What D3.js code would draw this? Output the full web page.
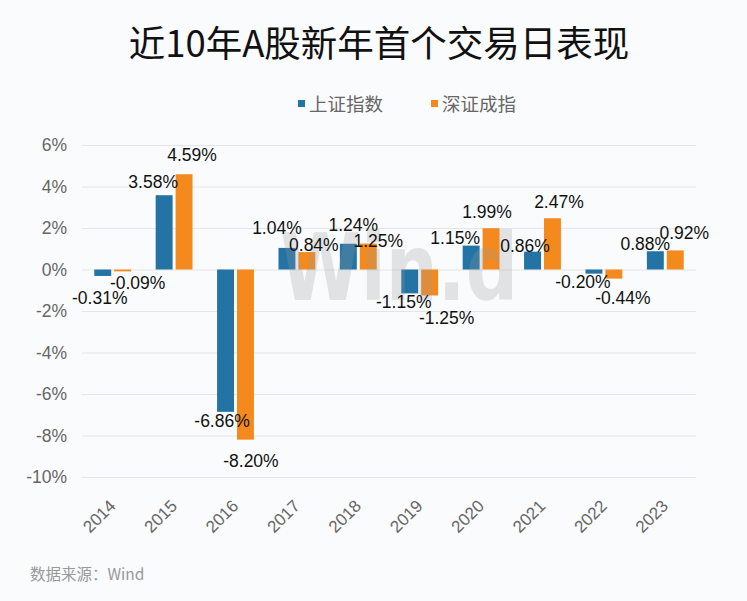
<!DOCTYPE html>
<html><head><meta charset="utf-8">
<script src="https://cdn.jsdelivr.net/npm/d3@7"></script>
<style>
html,body{margin:0;padding:0;background:#fafbfc;}
svg{display:block;}
</style></head>
<body>
<svg id="chart" width="747" height="601"></svg>
<script>
// ---- data ----
const years = ["2014","2015","2016","2017","2018","2019","2020","2021","2022","2023"];
const seriesNames = ["上证指数","深证成指"];
const shanghai = [-0.31, 3.58, -6.86, 1.04, 1.24, -1.15, 1.15, 0.86, -0.20, 0.88];
const shenzhen = [-0.09, 4.59, -8.20, 0.84, 1.25, -1.25, 1.99, 2.47, -0.44, 0.92];
const yTicks = [6, 4, 2, 0, -2, -4, -6, -8, -10];
const titleText = "近10年A股新年首个交易日表现";
const sourceText = "数据来源：Wind";

// ---- label nudges (layout only) [dx, dy] from bar centre / bar end ----
const nudgeShanghai = [[-3,22],[-11,-13],[-3.5,9],[-10,-20],[5,-18.5],[-6,9],[-16,-8],[-7.5,-6],[-11,8.5],[-10,-7]];
const nudgeShenzhen = [[15,12],[8,-19],[5.5,21],[7,-7],[10,-3],[17,22],[-4,-16],[6.5,-16],[9,19.5],[9,-18]];

(function(){
const colors = ["#2473a5","#f48a1e"];
const svg = d3.select("#chart");
const W = 747, H = 601;
svg.append("rect").attr("width",W).attr("height",H).attr("fill","#fafbfc");

const pL = 82, pR = 696, pT = 145, pB = 477;
const x0 = d3.scaleBand().domain(years).range([pL,pR]).paddingInner(0.4).paddingOuter(0.2);
const x1 = d3.scaleBand().domain([0,1]).range([0,x0.bandwidth()]).paddingInner(0.15);
const y = d3.scaleLinear().domain([-10,6]).range([pB,pT]);

// title
svg.append("text").attr("x",379).attr("y",57).attr("text-anchor","middle")
  .attr("font-family","'Noto Sans CJK SC',sans-serif").attr("font-size",36.5)
  .attr("fill","#111").text(titleText);

// legend
const legX = [298, 431];
seriesNames.forEach((n,i)=>{
  svg.append("rect").attr("x",legX[i]).attr("y",100).attr("width",7).attr("height",7).attr("fill",colors[i]);
  svg.append("text").attr("x",legX[i]+11).attr("y",110.5).attr("font-family","'Noto Sans CJK SC',sans-serif")
    .attr("font-size",18.5).attr("fill","#666").text(n);
});

// grid + y axis
const yAxis = d3.axisLeft(y).tickValues(yTicks).tickSize(-(pR-pL)).tickFormat(d=>d+"%");
const gy = svg.append("g").attr("transform",`translate(${pL},0)`).call(yAxis);
gy.select(".domain").remove();
gy.selectAll(".tick line").attr("stroke","#e3e5e8").attr("stroke-width",1);
gy.selectAll(".tick text").attr("x",-15).attr("font-family","'Liberation Sans',Arial,sans-serif")
  .attr("font-size",17.5).attr("fill","#666");

// x axis labels
const xAxis = d3.axisBottom(x0).tickSize(0);
const gx = svg.append("g").attr("transform",`translate(0,${pB})`).call(xAxis);
gx.select(".domain").remove();
gx.selectAll(".tick text").attr("font-family","'Liberation Sans',Arial,sans-serif").attr("font-size",17)
  .attr("fill","#666").attr("text-anchor","end").attr("dy",0).attr("y",0)
  .attr("transform","translate(4,30) rotate(-45)");

// bars
const series = [shanghai, shenzhen];
const nudges = [nudgeShanghai, nudgeShenzhen];
series.forEach((vals,s)=>{
  svg.append("g").selectAll("rect").data(vals).join("rect")
    .attr("x",(d,i)=>x0(years[i])+x1(s))
    .attr("width",x1.bandwidth())
    .attr("y",d=>y(Math.max(0,d)))
    .attr("height",d=>Math.abs(y(d)-y(0)))
    .attr("fill",colors[s]);
});

// watermark
svg.append("text").attr("x",280).attr("y",300).attr("textLength",238).attr("lengthAdjust","spacingAndGlyphs")
  .attr("font-family","'DejaVu Sans',sans-serif").attr("font-weight","bold").attr("font-size",92)
  .attr("fill","#9a9a9a").attr("opacity",0.25).text("Win.d");

// data labels
series.forEach((vals,s)=>{
  svg.append("g").selectAll("text").data(vals).join("text")
    .attr("x",(d,i)=>x0(years[i])+x1(s)+x1.bandwidth()/2+nudges[s][i][0])
    .attr("y",(d,i)=>y(d)+nudges[s][i][1])
    .attr("dy","0.35em").attr("text-anchor","middle")
    .attr("font-family","'Liberation Sans',Arial,sans-serif").attr("font-size",17.5)
    .attr("fill","#111").text(d=>d.toFixed(2)+"%");
});

// source
svg.append("text").attr("x",30).attr("y",580).attr("font-family","'Noto Sans CJK SC',sans-serif")
  .attr("font-size",15.5).attr("fill","#999").text(sourceText);
})();
</script>
</body></html>
